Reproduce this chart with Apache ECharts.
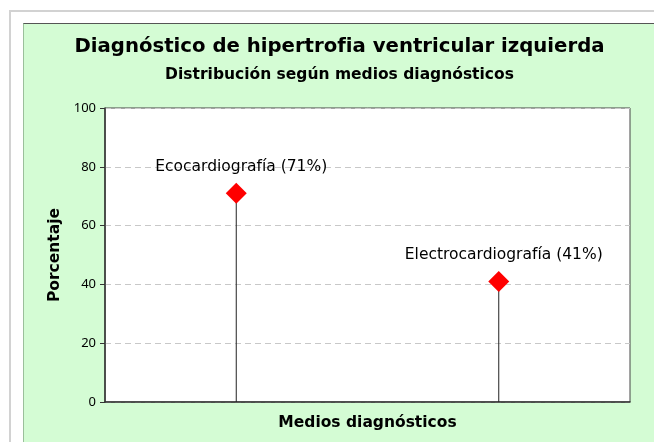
<!DOCTYPE html>
<html lang="es">
<head>
    <meta charset="UTF-8">
    <title>Hipertrofia ventricular izquierda | ECharts</title>
    <script src="https://cdn.jsdelivr.net/npm/echarts@6/dist/echarts.min.js"></script>
    <style>
        html, body { margin: 0; padding: 0; background: #fff; overflow: hidden; }
        #frame { position: absolute; left: 9px; top: 10px; width: 660px; height: 450px;
                 border-top: 2px solid #d2d2d2; border-left: 2px solid #d2d2d2; }
        #main { position: absolute; left: 23px; top: 23px; width: 631px; height: 419px;
                border-top: 1px solid #555; border-left: 1px solid #9bbf9b; background: #d4fcd4; }
    </style>
</head>
<body>
<div id="frame"></div>
<div id="main" style="width: 631px; height: 419px;"></div>

<script type="text/javascript">
    // datos
    var categories = ['Ecocardiografía', 'Electrocardiografía'];
    var values = [71, 41];
    var yTicks = [0, 20, 40, 60, 80, 100];

    var myChart = echarts.init(document.getElementById('main'));

    var option = {
        backgroundColor: '#d4fcd4',
        textStyle: { fontFamily: 'DejaVu Sans' },
        title: [
            {
                text: 'Diagnóstico de hipertrofia ventricular izquierda',
                left: 'center',
                top: 8,
                textStyle: { fontSize: 19.7, fontWeight: 'bold', color: '#000', fontFamily: 'DejaVu Sans' }
            },
            {
                text: 'Distribución según medios diagnósticos',
                left: 'center',
                top: 38,
                textStyle: { fontSize: 15.5, fontWeight: 'bold', color: '#000', fontFamily: 'DejaVu Sans' }
            }
        ],
        grid: {
            left: 81,
            top: 84,
            right: 25,
            bottom: 41,
            show: true,
            backgroundColor: '#fff',
            borderColor: '#444',
            borderWidth: 1
        },
        xAxis: {
            type: 'category',
            data: categories,
            name: 'Medios diagnósticos',
            nameLocation: 'middle',
            nameGap: 13,
            nameTextStyle: { fontSize: 15.5, fontWeight: 'bold', color: '#000' },
            axisLine: { lineStyle: { color: '#333', width: 1.5 } },
            axisTick: { alignWithLabel: true, length: 5, lineStyle: { color: '#333' } },
            axisLabel: { show: false },
            splitLine: { show: false }
        },
        yAxis: {
            type: 'value',
            min: yTicks[0],
            max: yTicks[yTicks.length - 1],
            interval: 20,
            name: 'Porcentaje',
            nameLocation: 'middle',
            nameGap: 41,
            nameTextStyle: { fontSize: 15.5, fontWeight: 'bold', color: '#000' },
            axisLine: { show: true, lineStyle: { color: '#333', width: 1.5 } },
            axisTick: { show: true, length: 5, lineStyle: { color: '#333' } },
            axisLabel: { margin: 9, fontSize: 13, color: '#000', fontFamily: 'Noto Sans' },
            splitLine: { lineStyle: { color: '#c8c8c8', type: [6, 4] } }
        },
        series: [
            {
                type: 'bar',
                data: values,
                barWidth: 1,
                itemStyle: { color: '#222' },
                silent: true
            },
            {
                type: 'scatter',
                data: values,
                symbol: 'diamond',
                symbolSize: 21,
                itemStyle: { color: '#ff0000', opacity: 1 },
                z: 5,
                label: {
                    show: true,
                    position: 'top',
                    distance: 8,
                    offset: [5, 0],
                    fontSize: 15.5,
                    color: '#000',
                    formatter: '{b} ({c}%)'
                }
            }
        ]
    };

    myChart.setOption(option);
</script>
</body>
</html>
